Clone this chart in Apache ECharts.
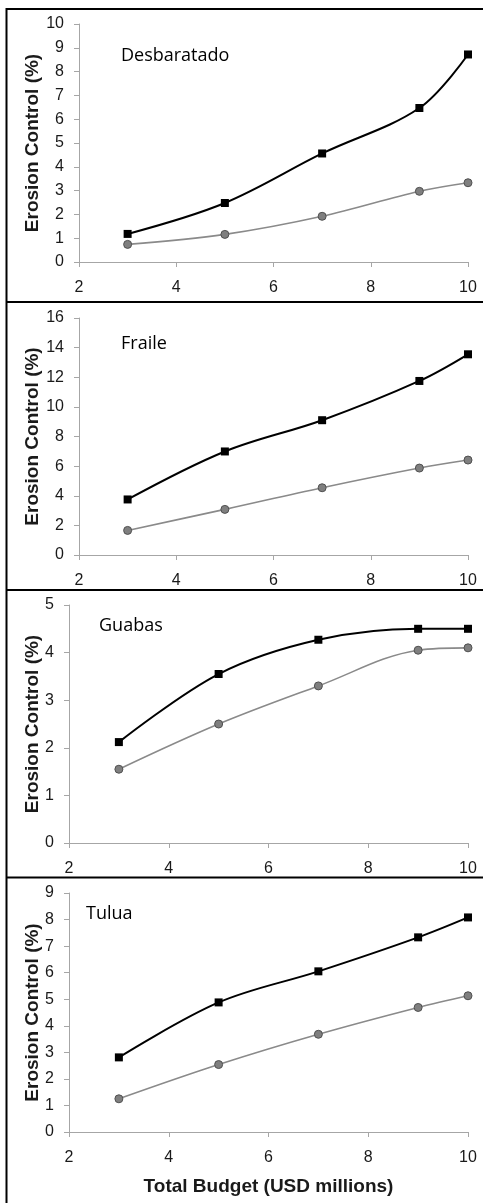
<!DOCTYPE html>
<html>
<head>
<meta charset="utf-8">
<script src="https://cdn.jsdelivr.net/npm/echarts@6/dist/echarts.min.js"></script>
<style>
html,body{margin:0;padding:0;background:#fff;}
#chart{width:483px;height:1203px;}
</style>
</head>
<body>
<div id="chart"></div>
<script>
// ---- data ----
const budgets = [3, 5, 7, 9, 10];
const xTicks = [2, 4, 6, 8, 10];
const panelNames = ['Desbaratado', 'Fraile', 'Guabas', 'Tulua'];
const desbHigh = [1.18, 2.48, 4.56, 6.47, 8.72];
const desbLow = [0.74, 1.16, 1.92, 2.97, 3.33];
const fraileHigh = [3.75, 6.99, 9.10, 11.75, 13.55];
const fraileLow = [1.66, 3.08, 4.54, 5.87, 6.41];
const guabasHigh = [2.12, 3.55, 4.27, 4.50, 4.50];
const guabasLow = [1.55, 2.50, 3.30, 4.05, 4.10];
const tuluaHigh = [2.81, 4.88, 6.05, 7.33, 8.08];
const tuluaLow = [1.25, 2.54, 3.68, 4.69, 5.13];
const yMax = [10, 16, 5, 9];
const yInterval = [1, 2, 1, 1];
const yTitle = 'Erosion Control (%)';
const xTitle = 'Total Budget (USD millions)';

const highSets = [desbHigh, fraileHigh, guabasHigh, tuluaHigh];
const lowSets = [desbLow, fraileLow, guabasLow, tuluaLow];

// ---- layout ----
const grids = [
  {left: 79, top: 24, width: 389, height: 238},
  {left: 79, top: 318, width: 389, height: 237},
  {left: 69, top: 605, width: 399, height: 238},
  {left: 69, top: 893, width: 399, height: 239}
];
const yNameGap = [37, 37, 27, 27];
const labelPos = [[121, 54], [121, 342], [99, 624], [86, 912]];

const FONT = '"Liberation Sans", Arial, sans-serif';
const axisGrey = '#a6a6a6';

const xAxes = grids.map((g, i) => ({
  type: 'value', gridIndex: i, min: 2, max: 10, interval: 2,
  axisLine: {show: true, lineStyle: {color: axisGrey, width: 1}},
  axisTick: {show: true, length: 5, lineStyle: {color: axisGrey}},
  splitLine: {show: false},
  axisLabel: {margin: 18, fontSize: 16, color: '#1a1a1a', fontFamily: FONT,
    formatter: v => xTicks.includes(v) ? String(v) : ''},
  name: i === 3 ? xTitle : '',
  nameLocation: 'middle', nameGap: 45, nameMoveOverlap: false,
  nameTextStyle: {fontSize: 19, fontWeight: 'bold', color: '#1a1a1a', fontFamily: FONT}
}));

const yAxes = grids.map((g, i) => ({
  type: 'value', gridIndex: i, min: 0, max: yMax[i], interval: yInterval[i],
  axisLine: {show: true, lineStyle: {color: axisGrey, width: 1}},
  axisTick: {show: true, length: 5, lineStyle: {color: axisGrey}},
  splitLine: {show: false},
  axisLabel: {margin: 15, fontSize: 16, color: '#1a1a1a', fontFamily: FONT},
  name: yTitle, nameLocation: 'middle', nameGap: yNameGap[i], nameMoveOverlap: false,
  nameTextStyle: {fontSize: 19, fontWeight: 'bold', color: '#1a1a1a', fontFamily: FONT}
}));

const series = [];
for (let i = 0; i < 4; i++) {
  series.push({
    type: 'line', xAxisIndex: i, yAxisIndex: i, smooth: 0.35,
    data: budgets.map((b, k) => [b, lowSets[i][k]]),
    symbol: 'circle', symbolSize: 8,
    lineStyle: {color: '#8a8a8a', width: 1.6},
    itemStyle: {color: '#7f7f7f', borderColor: '#505050', borderWidth: 1},
    z: 2
  });
  series.push({
    type: 'line', xAxisIndex: i, yAxisIndex: i, smooth: 0.35,
    data: budgets.map((b, k) => [b, highSets[i][k]]),
    symbol: 'rect', symbolSize: 8,
    lineStyle: {color: '#000', width: 2},
    itemStyle: {color: '#000'},
    z: 3
  });
}

const borderStyle = {stroke: '#000', lineWidth: 2};
const graphic = [
  {type: 'line', shape: {x1: 6.5, y1: 8, x2: 6.5, y2: 1203}, style: borderStyle},
  {type: 'line', shape: {x1: 6, y1: 9, x2: 483, y2: 9}, style: borderStyle},
  {type: 'line', shape: {x1: 6, y1: 302, x2: 483, y2: 302}, style: borderStyle},
  {type: 'line', shape: {x1: 6, y1: 590, x2: 483, y2: 590}, style: borderStyle},
  {type: 'line', shape: {x1: 6, y1: 877.5, x2: 483, y2: 877.5}, style: borderStyle}
];
panelNames.forEach((n, i) => {
  graphic.push({type: 'text', left: labelPos[i][0], top: labelPos[i][1] - 7,
    style: {text: n, fontSize: 18, fontFamily: '"Open Sans", "Noto Sans", sans-serif', fill: '#000'}});
});

const chart = echarts.init(document.getElementById('chart'), null, {renderer: 'canvas'});
chart.setOption({
  animation: false,
  backgroundColor: '#fff',
  grid: grids,
  xAxis: xAxes,
  yAxis: yAxes,
  series: series,
  graphic: graphic
});
</script>
</body>
</html>
